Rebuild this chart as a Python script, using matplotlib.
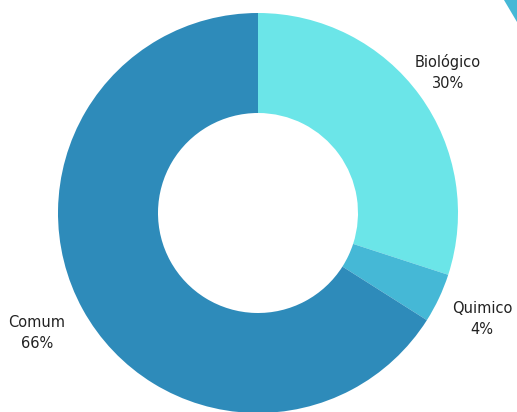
import matplotlib.pyplot as plt
from matplotlib.patches import Polygon

labels = ['Biológico', 'Quimico', 'Comum']
values = [30, 4, 66]
colors = ['#6be5e8', '#45b8d6', '#2e8bba']

fig = plt.figure(figsize=(5.17, 4.12), dpi=100)
ax = fig.add_axes([58 / 517, -1 / 412, 400 / 517, 400 / 412])

ax.pie(values, colors=colors, startangle=90, counterclock=False,
       radius=1, wedgeprops=dict(width=0.5, linewidth=0))
ax.set_xlim(-1, 1)
ax.set_ylim(-1, 1)
ax.set_aspect('equal')
ax.axis('off')

# label text positions (data coords)
label_pos = [(0.95, 0.70), (1.12, -0.53), (-1.105, -0.60)]
for name, v, (x, y) in zip(labels, values, label_pos):
    ax.text(x, y, f'{name}\n{v}%', ha='center', va='center', fontsize=10.5,
            color='#222222', linespacing=1.5, clip_on=False)

# decorative corner triangle
tri = Polygon([(504 / 517, 1), (1, 1), (1, 1 - 22 / 412)], closed=True,
              transform=fig.transFigure, color='#45b8d6', lw=0)
fig.patches.append(tri)

fig.savefig('out.png', dpi=100)
